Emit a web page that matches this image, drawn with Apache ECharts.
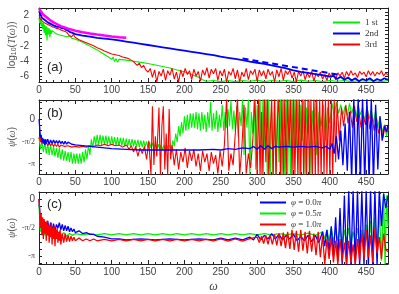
<!DOCTYPE html>
<html><head><meta charset="utf-8">
<script src="https://cdn.jsdelivr.net/npm/echarts@6/dist/echarts.min.js"></script>
<style>html,body{margin:0;padding:0;background:#fff}#c{width:399px;height:294px}</style>
</head><body><div id="c"></div>
<script>
const PI = Math.PI;
// ---------- tick labels ----------
const xTickStep = 50;
const yLabelsA = [2, 0, -2, -4, -6];
const phaseLabelValues = [0, -PI / 2, -PI];
const phaseLabelText = ['0', '-π/2', '-π'];
const legendA = ['1 st', '2nd', '3rd'];
const legendC = ['φ = 0.0π', 'φ = 0.5π', 'φ = 1.0π'];

// ---------- panel (a): log10 T(omega) ----------
const magentaA = [[0,2.9],[3,2.5],[6,2.1],[10,1.8],[15,1.4],[20,1.1],[25,0.85],[30,0.6],[40,0.25],[50,0],[60,-0.2],[70,-0.38],[80,-0.52],[90,-0.65],[100,-0.76],[110,-0.86],[120,-0.95]];
const blueA = [[0,2.6],[2,2.2],[4,1.7],[6,1.9],[8,1.4],[10,1.5],[12,1.1],[14,1.2],[16,0.9],[18,1.0],[20,0.7],[22,0.8],[25,0.5],[28,0.55],[31,0.3],[34,0.35],[37,0.1],[40,0.0],[43,-0.2],[46,-0.3],[50,-0.45],[55,-0.55],[60,-0.65],[70,-0.8],[80,-0.95],[90,-1.05],[100,-1.15],[110,-1.3],[120,-1.45],[130,-1.6],[140,-1.75],[150,-1.9],[160,-2.05],[170,-2.2],[180,-2.35],[190,-2.5],[200,-2.65],[210,-2.8],[220,-2.95],[230,-3.1],[240,-3.25],[250,-3.45],[260,-3.6],[270,-3.75],[280,-3.9],[290,-4.1],[300,-4.25],[310,-4.4],[320,-4.6],[330,-4.8],[340,-5.0],[350,-5.25],[360,-5.45],[370,-5.6],[380,-5.75],[390,-5.9],[400,-6.1],[405,-6.0],[410,-6.4],[415,-6.1],[420,-6.5],[425,-6.2],[430,-6.6],[435,-6.3],[440,-6.7],[445,-6.4],[450,-6.6],[455,-6.3],[460,-6.7],[465,-6.4],[470,-6.6],[475,-6.3],[480,-6.5]];
const blueDashA = [[280,-3.7],[410,-5.8]];
const greenA = [[0,1.7],[1,1.0],[2,1.5],[3,0.6],[4,1.2],[5,0.2],[6,1.0],[7,-0.3],[8,0.8],[9,-0.6],[10,0.6],[11,-1.3],[12,0.4],[13,-0.5],[14,0.3],[15,-0.9],[16,0.1],[17,-0.4],[18,0.0],[20,-0.2],[22,-0.3],[24,-0.35],[26,-0.5],[28,-0.45],[30,-0.6],[34,-0.7],[38,-0.8],[40,-0.85],[42.5,-0.7],[45,-1.0],[47.5,-0.85],[50,-1.15],[52.5,-1.0],[55,-1.35],[57.5,-1.2],[60,-1.55],[62.5,-1.4],[65,-1.8],[67.5,-1.6],[70,-2.05],[72.5,-1.9],[75,-2.3],[77.5,-2.15],[80,-2.55],[82.5,-2.4],[85,-2.85],[87.5,-2.7],[90,-3.15],[92.5,-3.0],[95,-3.45],[97.5,-3.3],[100,-3.8],[102,-3.5],[104,-4.1],[106,-3.7],[108,-4.2],[110,-3.8],[120,-3.9],[130,-4.05],[140,-4.2],[150,-4.35],[160,-4.55],[170,-4.75],[180,-4.95],[190,-5.2],[200,-5.45],[210,-5.8],[220,-6.2],[225,-6.5],[230,-6.7],[240,-6.6],[250,-6.75],[260,-6.6],[270,-6.75],[280,-6.6],[290,-6.7],[300,-6.55],[310,-6.75],[320,-6.6],[330,-6.7],[340,-6.6],[350,-6.75],[360,-6.55],[370,-6.7],[380,-6.6],[390,-6.75],[400,-6.6],[410,-6.7],[420,-6.6],[430,-6.75],[440,-6.6],[450,-6.7],[460,-6.6],[470,-6.75],[480,-6.6]];
const redA = [[0,2.0],[2,1.6],[4,1.3],[6,1.4],[8,1.0],[10,1.1],[12,0.8],[15,0.7],[18,0.5],[21,0.45],[24,0.3],[27,0.25],[30,0.1],[33,0.0],[36,-0.1],[39,-0.3],[41,-0.6],[43,-0.4],[45,-0.8],[47,-0.5],[50,-0.9],[55,-1.2],[60,-1.4],[65,-1.6],[70,-1.8],[75,-2.0],[80,-2.25],[85,-2.45],[90,-2.7],[95,-2.9],[100,-3.1],[105,-3.2],[110,-3.3],[115,-3.5],[120,-3.6],[125,-3.8],[130,-4.1],[135,-4.6],[138,-4.3],[141,-4.9],[144,-4.6],[147,-5.2],[150,-5.5],[153,-5.0],[156,-6.2],[159,-5.2],[162,-6.8],[165,-5.4],[168,-6.0],[171,-5.1],[174,-6.6],[177,-5.3],[180,-5.9],[183,-5.0],[186,-6.4],[189,-5.5],[192,-6.8],[195,-5.2],[198,-6.1],[201,-5.0],[204,-5.8],[207,-5.3],[210,-6.5],[213,-5.1],[216,-6.0],[219,-5.4],[222,-6.7],[225,-5.2],[228,-5.9],[231,-4.9],[234,-6.3],[237,-5.1],[240,-5.7],[243,-5.0],[246,-6.6],[249,-5.3],[252,-6.0],[255,-5.1],[258,-6.8],[261,-5.4],[264,-5.9],[267,-5.0],[270,-6.4],[273,-5.2],[276,-6.8],[279,-5.5],[282,-6.1],[285,-5.0],[288,-6.5],[291,-5.3],[294,-5.8],[297,-5.1],[300,-6.7],[303,-5.2],[306,-6.0],[309,-5.3],[312,-6.4],[315,-5.1],[318,-5.9],[321,-5.4],[324,-6.8],[327,-5.2],[330,-6.1],[333,-5.0],[336,-6.6],[339,-5.3],[342,-5.8],[345,-5.2],[348,-6.3],[351,-5.5],[354,-6.8],[357,-5.4],[360,-6.0],[363,-5.3],[366,-6.5],[369,-5.6],[372,-6.2],[375,-5.4],[378,-6.7],[381,-5.7],[384,-6.1],[387,-5.5],[390,-6.4],[393,-5.8],[396,-6.6],[399,-5.6],[402,-6.2],[405,-5.7],[408,-6.5],[411,-5.6],[414,-6.0],[417,-5.5],[420,-6.3],[423,-5.4],[426,-6.0],[429,-5.3],[432,-5.9],[435,-5.6],[438,-6.2],[441,-5.4],[444,-5.8],[447,-5.5],[450,-6.1],[453,-5.3],[456,-5.9],[459,-5.4],[462,-6.0],[465,-5.5],[468,-5.8],[471,-5.3],[474,-6.0],[477,-5.6],[480,-5.9]];

// ---------- panel (b): psi(omega) ----------
const blueB = [[0,0.0],[1,-0.6],[2,-1.3],[3,-1.1],[4,-1.6],[5,-1.3],[6,-1.7],[7,-1.4],[8,-1.8],[9,-1.4],[10,-1.7],[12,-1.4],[14,-1.75],[16,-1.45],[18,-1.7],[20,-1.45],[22,-1.7],[24,-1.5],[26,-1.7],[28,-1.5],[30,-1.7],[32,-1.55],[34,-1.75],[36,-1.55],[38,-1.75],[40,-1.6],[45,-1.75],[50,-1.8],[60,-1.85],[70,-1.9],[80,-1.95],[90,-2.0],[100,-2.05],[120,-2.1],[140,-2.15],[160,-2.15],[180,-2.15],[200,-2.15],[220,-2.15],[240,-2.1],[250,-2.15],[260,-2.05],[270,-2.1],[280,-2.0],[290,-2.05],[295,-1.9],[300,-2.1],[305,-1.85],[310,-2.1],[315,-1.85],[320,-2.05],[325,-1.9],[330,-1.95],[340,-1.9],[350,-1.95],[360,-1.9],[370,-1.95],[380,-1.9],[390,-2.0],[395,-1.9],[400,-2.1],[403,-1.7],[406,-2.4],[409,-1.2],[412,-2.8],[415,-0.8],[418,-3.2],[421,-0.3],[424,-3.6],[427,0.5],[430,-4.2],[433,1.5],[436,-4.5],[439,1.5],[442,-4.5],[445,1.5],[448,-4.5],[451,1.5],[454,-4.5],[457,1.5],[460,-4.5],[463,1.0],[466,-3.5],[469,0.2],[472,-1.5],[475,-0.5],[478,-0.9],[480,-0.4]];
const redB = [[0,-1.4],[1,-1.2],[2,-1.6],[3,-1.3],[4,-1.7],[6,-1.5],[8,-1.8],[10,-1.6],[12,-1.85],[14,-1.65],[16,-1.85],[18,-1.7],[20,-1.9],[22,-1.75],[24,-1.9],[26,-1.75],[28,-1.95],[30,-1.8],[35,-1.9],[40,-1.85],[45,-1.95],[50,-1.9],[55,-1.95],[60,-1.9],[65,-1.95],[70,-1.85],[75,-1.9],[80,-1.8],[85,-1.85],[90,-1.75],[95,-1.85],[100,-1.75],[105,-1.85],[110,-1.8],[115,-1.95],[120,-1.8],[124,-2.1],[127,-1.85],[130,-2.3],[133,-1.9],[136,-2.6],[139,-2.0],[142,-2.4],[145,-1.9],[148,-2.8],[151,-1.5],[154,-3.9],[156,0.9],[158,-3.2],[160,-1.2],[162,-2.6],[165,0.8],[167,-3.9],[169,-0.5],[171,0.9],[173,-3.5],[175,-1.0],[177,-3.9],[179,0.7],[181,-2.8],[183,-1.8],[186,-3.2],[189,-2.1],[192,-3.5],[195,-2.3],[198,-3.0],[201,-2.0],[204,-3.4],[207,-2.2],[210,-2.9],[213,-2.1],[216,-3.3],[219,-2.4],[222,-3.6],[225,-2.2],[228,-3.0],[231,-2.4],[234,-3.6],[237,-2.3],[240,-3.1],[243,-2.5],[246,-3.8],[249,-2.2],[252,-3.3],[255,-1.8],[258,1.5],[261,-3.6],[264,-2.4],[267,-3.2],[270,-1.0],[273,1.5],[276,-3.9],[279,-2.0],[282,1.0],[285,-3.8],[288,-2.4],[291,-3.4],[294,-1.5],[297,1.5],[300,-4.0],[302,1.5],[304,-4],[306,0.5],[308,-4],[310,1.5],[312,-3],[314,1.5],[316,-4],[318,-1],[320,1.5],[322,-4],[324,1.5],[326,-4],[328,0],[330,1.5],[332,-4],[334,1.5],[336,-4],[338,1.5],[340,-4],[342,1.5],[344,-2],[346,1.5],[348,-4],[350,1.5],[352,-4],[354,1.5],[356,-4],[358,1.5],[360,-4],[362,1.5],[364,-4],[366,1.5],[368,-4],[370,1.5],[372,-4],[374,1.5],[376,-4],[378,1.5],[380,-4],[382,1.5],[384,-4],[386,1.5],[388,-4],[390,1.5],[392,-4],[394,1.5],[396,-4],[398,1.5],[400,-4],[402,1.5],[404,-4],[406,1.5],[408,-3],[410,1.2],[413,-1.5],[416,0.8],[419,-0.5],[422,1.0],[425,-0.3],[428,0.6],[431,-0.6],[434,0.9],[437,-0.2],[440,0.5],[443,-0.6],[446,0.3],[449,-0.4],[452,0.6],[455,-0.7],[458,0.2],[461,-0.8],[464,0.1],[467,-1.0],[470,-0.3],[473,-1.3],[476,-0.4],[478,-0.9],[480,-0.5]];
const greenB = [[0,-1.3],[2,-2.1],[4,-1.5],[6,-2.3],[8,-1.6],[10,-2.4],[12,-1.7],[14,-2.5],[16,-1.8],[18,-2.5],[20,-1.9],[22,-2.6],[24,-2.0],[26,-2.7],[28,-2.0],[30,-2.8],[32,-2.1],[34,-2.9],[36,-2.2],[38,-2.9],[40,-2.3],[42,-3.0],[44,-2.3],[46,-3.1],[48,-2.4],[50,-3.1],[52,-2.4],[54,-3.1],[56,-2.4],[58,-3.1],[60,-2.3],[62,-3.0],[64,-2.1],[66,-2.8],[68,-1.8],[70,-2.5],[72,-1.4],[74,-2.0],[76,-1.2],[78,-1.8],[80,-1.1],[82,-1.8],[84,-1.1],[86,-1.8],[88,-1.15],[90,-1.8],[92,-1.15],[94,-1.8],[96,-1.2],[98,-1.8],[100,-1.2],[102,-1.8],[104,-1.25],[106,-1.85],[108,-1.25],[110,-1.85],[112,-1.3],[114,-1.85],[116,-1.3],[118,-1.9],[120,-1.35],[122,-1.9],[124,-1.4],[126,-1.9],[128,-1.4],[130,-1.9],[132,-1.45],[134,-1.95],[136,-1.45],[138,-1.95],[140,-1.5],[142,-1.95],[144,-1.5],[146,-1.95],[148,-1.55],[150,-2.0],[152,-1.6],[154,-2.0],[156,-1.65],[158,-2.05],[160,-1.7],[162,-2.1],[164,-1.75],[166,-2.1],[168,-1.8],[170,-2.15],[172,-1.8],[174,-2.2],[176,-1.85],[178,-2.2],[180,-1.8],[182,-2.1],[184,-1.5],[186,-1.9],[188,-1.0],[190,-1.6],[192,-0.5],[194,-1.2],[196,-0.2],[198,-1.0],[200,0.2],[202,-0.8],[204,0.3],[206,-0.7],[208,0.4],[210,-0.6],[212,0.4],[214,-0.6],[216,0.5],[218,-0.7],[220,0.4],[222,-0.8],[224,0.5],[226,-0.7],[228,0.3],[230,-0.9],[232,0.5],[234,-0.6],[236,1.2],[238,-0.8],[240,0.4],[242,-0.7],[244,0.6],[246,-0.9],[248,0.3],[250,-0.6],[252,1.0],[254,-0.8],[256,0.5],[258,-0.6],[260,0.7],[262,-0.5],[264,1.3],[266,-0.7],[268,0.6],[270,-0.8],[272,0.9],[274,-1.2],[276,0.5],[278,-0.5],[280,1.5],[282,-2.5],[284,0.8],[286,-0.6],[288,1.5],[290,-4.0],[292,0.5],[294,-1.0],[296,1.5],[298,-3.5],[300,1.0],[302,-0.5],[304,1.5],[306,-4.0],[308,1.5],[310,-2.0],[312,1.5],[314,-4],[316,1.5],[318,-4],[320,0.5],[322,-4],[324,1.5],[326,-4],[328,1.5],[330,-3],[332,1.5],[334,-4],[336,1.5],[338,-4],[340,1.5],[342,-4],[344,1.5],[346,-4],[348,1.5],[350,-3.5],[352,1.5],[354,-2],[356,1.5],[358,-4],[360,1.0],[362,-1.5],[364,1.5],[366,-4],[368,0.8],[370,-1.0],[372,1.5],[374,-3.8],[376,0.6],[378,-0.8],[380,1.2],[382,-2.5],[385,0.5],[388,-0.5],[391,1.0],[394,-1.5],[397,0.8],[400,-0.3],[403,1.1],[406,0.2],[409,1.2],[412,0.4],[415,1.0],[418,0.3],[421,0.9],[424,0.2],[427,1.1],[430,0.4],[433,0.9],[436,0.1],[439,1.0],[442,0.3],[445,0.8],[448,-0.2],[451,0.9],[454,0.0],[457,0.7],[460,-0.3],[463,0.6],[466,-0.6],[469,0.2],[472,-0.9],[475,-0.4],[478,-1.2],[480,-0.7]];

// ---------- panel (c): psi(omega) for three phases ----------
const blueC = [[0,0.0],[1,-0.7],[2,-1.3],[3,-1.0],[4,-1.5],[5,-1.1],[6,-1.6],[7,-1.2],[8,-1.7],[9,-1.25],[10,-1.6],[12,-1.2],[14,-1.7],[16,-1.3],[18,-1.75],[20,-1.35],[22,-1.75],[24,-1.4],[26,-1.6],[28,-1.3],[30,-1.7],[32,-1.4],[34,-1.75],[36,-1.45],[38,-1.75],[40,-1.5],[42,-1.8],[44,-1.6],[46,-1.8],[48,-1.65],[50,-1.85],[55,-1.75],[60,-1.9],[65,-1.85],[70,-1.95],[75,-1.95],[80,-2.05],[90,-2.1],[100,-2.2],[110,-2.2],[120,-2.25],[140,-2.2],[160,-2.25],[180,-2.2],[200,-2.25],[220,-2.2],[240,-2.25],[250,-2.15],[260,-2.25],[270,-2.15],[280,-2.25],[290,-2.1],[295,-2.25],[300,-1.95],[305,-2.25],[310,-2.0],[315,-2.2],[320,-1.9],[325,-2.2],[330,-1.95],[335,-2.25],[340,-2.0],[345,-2.2],[350,-1.95],[355,-2.3],[360,-2.05],[365,-2.3],[370,-2.0],[375,-2.35],[380,-2.0],[385,-2.4],[390,-1.8],[393,-2.6],[396,-1.7],[399,-2.9],[402,-1.5],[405,-3.1],[408,-1.0],[411,-3.4],[414,-0.5],[417,-3.6],[420,0.2],[423,-3.7],[426,0.5],[429,-3.7],[432,0.5],[435,-3.7],[438,0.5],[441,-3.7],[444,0.5],[447,-3.7],[450,0.5],[453,-3.7],[456,0.5],[459,-3.7],[462,0.5],[465,-3.7],[468,0.5],[471,-1.5],[474,0.3],[477,-0.5],[480,0.2]];
const greenC = [[0,-0.3],[1,-1.0],[2,-1.8],[3,-1.3],[4,-1.9],[5,-1.4],[6,-2.0],[7,-1.5],[8,-2.0],[9,-1.6],[10,-2.0],[12,-1.6],[14,-2.05],[16,-1.7],[18,-2.1],[20,-1.75],[22,-2.1],[24,-1.8],[26,-2.1],[28,-1.8],[30,-2.05],[34,-1.85],[38,-2.05],[42,-1.9],[46,-2.0],[50,-1.9],[60,-1.97],[70,-1.91],[80,-1.97],[90,-1.91],[100,-1.97],[110,-1.91],[120,-1.97],[130,-1.91],[140,-1.97],[150,-1.91],[160,-1.97],[170,-1.91],[180,-1.97],[190,-1.91],[200,-1.97],[210,-1.91],[220,-1.97],[230,-1.91],[240,-1.97],[250,-1.91],[260,-1.97],[270,-1.91],[280,-1.97],[290,-1.91],[300,-1.97],[310,-1.91],[320,-1.97],[330,-1.9],[340,-1.98],[350,-1.9],[360,-1.99],[370,-1.88],[380,-2.0],[390,-1.8],[393,-2.2],[396,-1.7],[399,-2.3],[402,-1.6],[405,-2.4],[408,-1.7],[411,-2.3],[414,-1.6],[417,-2.5],[420,-1.7],[423,-2.4],[426,-1.6],[429,-2.5],[432,-1.8],[435,-2.4],[438,-1.6],[441,-2.5],[444,-1.7],[447,-2.6],[450,-1.4],[453,-2.8],[456,-1.2],[459,-3.0],[462,-1.0],[465,-3.2],[468,-0.6],[471,-3.4],[474,0.3],[476,-3.6],[478,0.2],[480,-1.5]];
const redC = [[0,0.0],[1,-0.6],[2,-1.6],[3,-0.8],[4,-2.0],[5,-1.0],[6,-2.2],[7,-1.1],[8,-1.9],[9,-1.3],[10,-2.3],[11,-1.2],[12,-2.0],[13,-1.4],[14,-2.4],[15,-1.5],[16,-2.1],[17,-1.3],[18,-2.5],[19,-1.6],[20,-2.2],[21,-1.5],[22,-2.6],[23,-1.7],[24,-2.2],[25,-1.6],[26,-2.4],[27,-1.8],[28,-2.3],[29,-1.7],[30,-2.5],[32,-1.9],[34,-2.4],[36,-1.9],[38,-2.35],[40,-2.0],[42,-2.35],[44,-2.05],[46,-2.3],[48,-2.1],[50,-2.3],[55,-2.15],[60,-2.3],[65,-2.2],[70,-2.3],[75,-2.2],[80,-2.3],[90,-2.22],[100,-2.3],[110,-2.22],[120,-2.3],[130,-2.22],[140,-2.3],[150,-2.22],[160,-2.3],[170,-2.22],[180,-2.3],[190,-2.22],[200,-2.3],[210,-2.22],[220,-2.3],[230,-2.22],[240,-2.3],[250,-2.2],[260,-2.32],[270,-2.2],[280,-2.32],[290,-2.18],[300,-2.1],[303,-2.4],[306,-2.05],[309,-2.45],[312,-2.0],[315,-2.5],[318,-2.0],[321,-2.5],[324,-1.95],[327,-2.55],[330,-1.9],[333,-2.6],[336,-1.85],[339,-2.7],[342,-1.8],[345,-2.75],[348,-1.7],[351,-2.8],[354,-1.75],[357,-2.9],[360,-1.7],[363,-2.85],[366,-1.8],[369,-3.0],[372,-1.75],[375,-2.9],[378,-1.9],[381,-3.1],[384,-1.8],[387,-3.2],[390,-2.0],[393,-3.6],[396,-2.2],[399,-3.3],[402,-2.1],[405,-3.5],[408,-2.3],[411,-3.6],[414,-2.2],[417,-3.4],[420,-2.4],[423,-3.6],[426,-2.3],[429,-3.5],[432,-2.5],[435,-3.6],[438,-2.2],[441,-3.4],[444,-1.9],[447,-3.3],[450,-1.7],[453,-3.2],[456,-2.0],[459,-3.5],[462,-1.6],[465,-3.0],[468,-2.1],[471,-3.3],[474,-1.9],[477,-2.8],[480,-2.9]];

// ---------- styling / layout ----------
const AX = '#222', LBL = '#444';
const GREEN = '#00f000', BLUE = '#0000ff', RED = '#ff0000', MAGENTA = '#ff00ff';
const grids = [
  {left: 39, right: 11, top: 8, height: 74, outerBoundsMode: 'none', containLabel: false},
  {left: 39, right: 11, top: 100, height: 74, outerBoundsMode: 'none', containLabel: false},
  {left: 39, right: 11, top: 192, height: 72, outerBoundsMode: 'none', containLabel: false}
];
const yRanges = [[-6.8, 3], [-3.82, 1.33], [-3.58, 0.39]];

function ticksBetween(lo, hi, step) {
  const out = [];
  for (let v = Math.ceil(lo / step) * step; v <= hi + 1e-9; v += step) out.push(v);
  return out;
}
function xAxisPair(g, showLabel) {
  const base = {
    type: 'value', gridIndex: g, min: 0, max: 480, interval: xTickStep,
    axisLine: {onZero: false, lineStyle: {color: AX, width: 1}},
    axisTick: {inside: true, length: 4, lineStyle: {color: AX}},
    minorTick: {show: true, splitNumber: 5, length: 2, lineStyle: {color: AX}},
    splitLine: {show: false}, minorSplitLine: {show: false}
  };
  const bottom = Object.assign({}, base, {
    position: 'bottom',
    axisLabel: {show: showLabel, showMaxLabel: false, color: LBL, fontSize: 10, margin: 3, fontFamily: 'Liberation Sans'}
  });
  if (g === 2) {
    bottom.name = 'ω';
    bottom.nameLocation = 'middle';
    bottom.nameGap = 17;
    bottom.nameMoveOverlap = false;
    bottom.nameTextStyle = {fontFamily: 'Liberation Serif', fontStyle: 'italic', fontSize: 12, color: LBL};
  }
  const top = Object.assign({}, base, {position: 'top', axisLabel: {show: false}});
  return [bottom, top];
}
function phaseFormatter(v) {
  for (let i = 0; i < phaseLabelValues.length; i++) {
    if (Math.abs(phaseLabelValues[i] - v) < 1e-6) {
      return i === 0 ? '{n|' + phaseLabelText[i] + '}' : '{s|' + phaseLabelText[i] + '}';
    }
  }
  return '';
}
function yAxisPair(g) {
  const [mn, mx] = yRanges[g];
  const isA = g === 0;
  const tickVals = isA ? ticksBetween(mn, mx, 0.5) : ticksBetween(mn, mx, PI / 8);
  const base = {
    type: 'value', gridIndex: g, min: mn, max: mx,
    axisLine: {onZero: false, lineStyle: {color: AX, width: 1}},
    axisTick: {inside: true, length: 3, customValues: tickVals, lineStyle: {color: AX}},
    splitLine: {show: false}
  };
  const left = Object.assign({}, base, {
    position: 'left',
    axisLabel: isA ? {customValues: yLabelsA, color: LBL, fontSize: 10, margin: 10, fontFamily: 'Liberation Sans'}
      : {customValues: phaseLabelValues, formatter: phaseFormatter, margin: 4,
         rich: {n: {fontSize: 10, color: LBL, fontFamily: 'Liberation Sans'},
                s: {fontSize: 8, color: LBL, fontFamily: 'Liberation Serif'}}},
    nameLocation: 'middle', nameRotate: 90,
    nameMoveOverlap: false,
    nameGap: isA ? 21 : 22,
    name: isA ? 'log{sub|10}({it|T}({it|ω}))' : '{it|ψ}({it|ω})',
    nameTextStyle: {fontSize: 10, color: '#555', fontFamily: 'Liberation Sans',
      rich: {sub: {fontSize: 7, color: '#555', padding: [4, 0, 0, 0]},
             it: {fontSize: 10, color: '#555', fontStyle: 'italic', fontFamily: 'Liberation Serif'}}}
  });
  const right = Object.assign({}, base, {position: 'right', axisLabel: {show: false}});
  return [left, right];
}

const xAxes = [], yAxes = [];
[0, 1, 2].forEach(g => { xAxes.push(...xAxisPair(g, true)); yAxes.push(...yAxisPair(g)); });

function line(name, data, g, color, width, extra) {
  return Object.assign({
    name, type: 'line', data, xAxisIndex: g * 2, yAxisIndex: g * 2,
    symbol: 'none', showSymbol: false, clip: true, silent: true, animation: false,
    color, lineStyle: {color, width}
  }, extra || {});
}

const series = [
  line(legendA[0], greenA, 0, GREEN, 1.1),
  line(legendA[2], redA, 0, RED, 1.1),
  line(legendA[1], blueA, 0, BLUE, 1.8),
  line('fit2', blueDashA, 0, BLUE, 2, {lineStyle: {color: BLUE, width: 2, type: [6, 4]}}),
  line('fit1', magentaA, 0, MAGENTA, 2.5),
  line('b1', greenB, 1, GREEN, 1.1),
  line('b3', redB, 1, RED, 1.1),
  line('b2', blueB, 1, BLUE, 1.3),
  line(legendC[1], greenC, 2, GREEN, 1.3),
  line(legendC[0], blueC, 2, BLUE, 1.3),
  line(legendC[2], redC, 2, RED, 1.3)
];

const legendText = {fontFamily: 'Liberation Serif', fontSize: 9, color: '#333', lineHeight: 11,
  rich: {i: {fontFamily: 'Liberation Serif', fontStyle: 'italic', fontSize: 9, color: '#333', lineHeight: 11}}};

const option = {
  animation: false,
  backgroundColor: '#fff',
  grid: grids,
  xAxis: xAxes,
  yAxis: yAxes,
  legend: [
    {data: legendA, orient: 'vertical', left: 333, top: 17, padding: 0, itemGap: 0,
     icon: 'rect', itemWidth: 27, itemHeight: 2, selectedMode: false, textStyle: legendText},
    {data: legendC, orient: 'vertical', left: 260, top: 197, padding: 0, itemGap: 0,
     icon: 'rect', itemWidth: 26, itemHeight: 2, selectedMode: false, textStyle: legendText,
     formatter: n => n.replace('φ', '{i|φ}').replace('π', '{i|π}')}
  ],
  graphic: [
    {type: 'text', left: 47, top: 61, z: 100, style: {text: '(a)', fontSize: 13, fill: '#222', fontFamily: 'Liberation Sans'}},
    {type: 'text', left: 47, top: 107, z: 100, style: {text: '(b)', fontSize: 13, fill: '#222', fontFamily: 'Liberation Sans'}},
    {type: 'text', left: 47, top: 198, z: 100, style: {text: '(c)', fontSize: 13, fill: '#222', fontFamily: 'Liberation Sans'}}
  ],
  series
};
const chart = echarts.init(document.getElementById('c'), null, {renderer: 'canvas'});
chart.setOption(option);
</script></body></html>
